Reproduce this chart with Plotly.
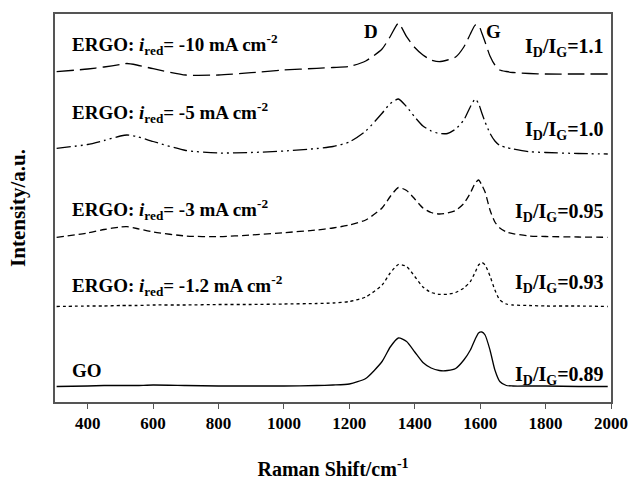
import plotly.graph_objects as go

# Raman shift grid (cm-1)
shift = [305, 400, 450, 500, 520, 550, 600, 700, 800, 900, 1000, 1100, 1150, 1200,
         1250, 1300, 1325, 1350, 1375, 1400, 1425, 1450, 1475, 1500, 1525, 1550,
         1570, 1585, 1595, 1605, 1615, 1630, 1645, 1660, 1680, 1700, 1750, 1800,
         1900, 1990]

# Offset intensities (a.u.)
go_oxide = [15.5, 16, 16.5, 16.5, 16.5, 16.5, 17, 16.5, 16, 16, 16, 16.5, 17, 18,
            23.5, 40.5, 55, 64, 60.5, 50, 39.5, 34, 31.5, 31.5, 33.5, 42,
            52, 63, 69, 70, 67, 52, 32, 20.5, 16.5, 16, 16, 16, 15.5, 15.5]
ergo_1p2 = [95.5, 96, 96, 96.5, 96.5, 96.5, 97, 97, 97.5, 97.5, 98, 98.5, 99, 100.5,
            105, 117, 129, 137.5, 135.5, 125.5, 115, 109.5, 107.7, 107.7, 109.5, 114,
            120.5, 130, 137, 139.5, 137, 126, 112, 102, 98, 97, 96.5, 96, 96, 95.5]
ergo_3 = [164.7, 169, 172.5, 175, 175.3, 173.5, 170, 166, 165.3, 167, 169.3, 172, 174, 177,
          182, 194, 205.5, 214.5, 211.5, 203, 194, 189.5, 188, 189, 191.5, 198.5,
          209, 219, 222, 217, 210, 192, 180, 174, 170, 168.3, 166, 165.5, 165, 164.7]
ergo_5 = [253.7, 257.5, 261.5, 266, 267, 265.5, 260.5, 251.5, 249, 249.5, 251, 253.5, 255.5, 260,
          271, 288.7, 298.5, 303, 295.3, 285, 276, 271, 268.5, 268.5, 273, 282,
          295.3, 303, 298.5, 289, 280, 268.7, 261, 256.5, 254.5, 253, 250.3, 249.5, 248.5, 248]
ergo_10 = [330.3, 333, 335, 337.5, 338.5, 337, 333.3, 327, 327, 329.3, 332, 333.7, 334.5, 335.5,
           341, 353, 365.5, 378.7, 365.3, 354.5, 347, 342, 340.3, 342, 345, 355,
           368, 377, 377, 369, 360, 346, 337, 332, 330.5, 329.5, 328.5, 328, 328, 328]

x_ticks = [400, 600, 800, 1000, 1200, 1400, 1600, 1800, 2000]

series = [
    (go_oxide, "solid"),
    (ergo_1p2, "dot"),
    (ergo_3, "7px,4px"),
    (ergo_5, "14px,4px,2px,4px,2px,4px"),
    (ergo_10, "17px,6px"),
]

SERIF = "Liberation Serif, Times New Roman, serif"

fig = go.Figure()
for ys, dash in series:
    fig.add_trace(go.Scatter(x=shift, y=ys, mode="lines",
                             line=dict(color="black", width=1.3, dash=dash, shape="spline", smoothing=0.6),
                             showlegend=False, hoverinfo="skip"))

left_labels = [
    ("<b>ERGO: <i>i</i><sub>red</sub>= -10 mA cm<sup>-2</sup></b>", 402 - 44),
    ("<b>ERGO: <i>i</i><sub>red</sub>= -5 mA cm<sup>-2</sup></b>", 402 - 112),
    ("<b>ERGO: <i>i</i><sub>red</sub>= -3 mA cm<sup>-2</sup></b>", 402 - 209),
    ("<b>ERGO: <i>i</i><sub>red</sub>= -1.2 mA cm<sup>-2</sup></b>", 402 - 285),
    ("<b>GO</b>", 402 - 370),
]
for txt, yv in left_labels:
    fig.add_annotation(x=345, y=yv, text=txt, showarrow=False, xanchor="left", yanchor="middle",
                       font=dict(family=SERIF, size=19, color="black"))

right_labels = [
    ("<b>I<sub>D</sub>/I<sub>G</sub>=1.1</b>", 402 - 47),
    ("<b>I<sub>D</sub>/I<sub>G</sub>=1.0</b>", 402 - 130),
    ("<b>I<sub>D</sub>/I<sub>G</sub>=0.95</b>", 402 - 212),
    ("<b>I<sub>D</sub>/I<sub>G</sub>=0.93</b>", 402 - 283),
    ("<b>I<sub>D</sub>/I<sub>G</sub>=0.89</b>", 402 - 375),
]
for txt, yv in right_labels:
    fig.add_annotation(x=1985, y=yv, text=txt, showarrow=False, xanchor="right", yanchor="middle",
                       font=dict(family=SERIF, size=20, color="black"))

fig.add_annotation(x=1265, y=402 - 31, text="<b>D</b>", showarrow=False,
                   font=dict(family=SERIF, size=19, color="black"))
fig.add_annotation(x=1640, y=402 - 31, text="<b>G</b>", showarrow=False,
                   font=dict(family=SERIF, size=19, color="black"))

fig.update_xaxes(range=[300, 2000], tickvals=x_ticks, ticktext=[f"<b>{v}</b>" for v in x_ticks],
                 ticks="outside", ticklen=5, tickwidth=1.3, tickcolor="#555",
                 showline=True, linecolor="#555", linewidth=1.5, mirror=True, showgrid=False,
                 zeroline=False, automargin=False,
                 tickfont=dict(family=SERIF, size=17, color="black"),
                 title=dict(text="<b>Raman Shift/cm<sup>-1</sup></b>", standoff=31,
                            font=dict(family=SERIF, size=20, color="black")))
fig.update_yaxes(range=[0, 388], showticklabels=False, ticks="",
                 showline=True, linecolor="#555", linewidth=1.5, mirror=True, showgrid=False,
                 zeroline=False, automargin=False,
                 title=dict(text="<b>Intensity/a.u.</b>", standoff=22,
                            font=dict(family=SERIF, size=21, color="black")))

fig.update_layout(width=630, height=480, margin=dict(l=55, r=19, t=14, b=78),
                  paper_bgcolor="white", plot_bgcolor="white")

fig.write_html("out.html")
